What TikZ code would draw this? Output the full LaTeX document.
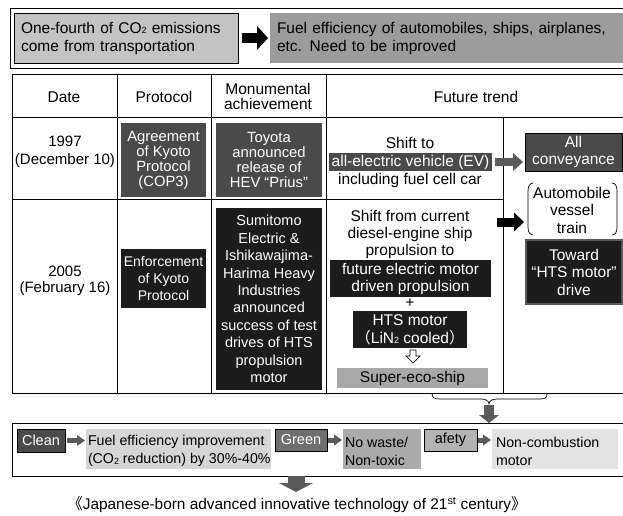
\documentclass[tikz,border=0pt]{standalone}
\usepackage{fontspec}
\setmainfont{Liberation Sans}
\newfontfamily\cjk{Noto Sans CJK JP}
\usetikzlibrary{arrows.meta}
\definecolor{dgray}{HTML}{4A4A4A}
\definecolor{kblack}{HTML}{1C1C1C}
\definecolor{lgray}{HTML}{C4C4C4}
\definecolor{mgray}{HTML}{9C9C9C}
\definecolor{sgray}{HTML}{A8A8A8}
\definecolor{agray}{HTML}{5A5A5A}
\definecolor{fgray}{HTML}{D6D6D6}
\definecolor{ngray}{HTML}{ABABAB}
\definecolor{grgray}{HTML}{6E6E6E}
\definecolor{sfgray}{HTML}{B3B3B3}
\definecolor{ncgray}{HTML}{E3E3E3}
\newcommand\fs[2]{\fontsize{#1}{#2}\selectfont}
\newcommand\subtwo{\raisebox{-0.1ex}{\fontsize{9}{9}\selectfont 2}}
\tikzset{
  dbox/.style={fill=dgray, text=white, align=center},
  kbox/.style={fill=kblack, text=white, align=center},
  barrow/.style={draw=black, line width=10pt, -{Triangle[length=11pt,width=24pt,line width=0pt]}},
  rarrow/.style={draw=black, line width=9pt, -{Triangle[length=10pt,width=19pt,line width=0pt]}},
  garrow/.style={draw=agray, line width=8pt, -{Triangle[length=10pt,width=18pt,line width=0pt]}},
  sarrow/.style={draw=agray, line width=5pt, -{Triangle[length=8pt,width=11pt,line width=0pt]}},
  darrow/.style={draw=agray, line width=10pt, -{Triangle[length=8pt,width=20pt,line width=0pt]}},
  farrow/.style={draw=agray, line width=17pt, -{Triangle[length=9pt,width=34pt,line width=0pt]}},
  tabline/.style={draw=black, line width=0.8pt},
  tabout/.style={draw=black, line width=1pt},
  btext/.style={anchor=west, align=left, font={\fs{14.2}{18}}},
}
\begin{document}
\begin{tikzpicture}[x=1pt,y=-1pt, every node/.style={inner sep=0pt, outer sep=0pt}]
\useasboundingbox (0,0) rectangle (623,516);
\fill[white] (0,0) rectangle (623,516);
\clip (0,0) rectangle (623,516);

% ---------- top frame
\node[draw, line width=0.9pt, minimum width=620, minimum height=60] (topframe) at (320,38) {};
\node[draw, line width=0.8pt, fill=lgray, minimum width=224, minimum height=50, text width=210, align=left, font={\fs{15.5}{18}}] (topL) at (126,38) {One-fourth of CO\subtwo{} emissions\\come from transportation};
\node[fill=mgray, minimum width=360, minimum height=50, text width=346, align=left, font={\fs{15.5}{18}}] (topR) at (450,38) {Fuel efficiency of automobiles, ships, airplanes,\\etc. Need to be improved};
\draw[barrow, shorten <=4pt, shorten >=2pt] (topL.east) -- (topR.west);

% ---------- table
\draw[tabout] (630,75) -- (12,75) -- (12,393) -- (630,393);
\draw[tabline] (12,117) -- (630,117);
\draw[tabline] (12,199) -- (503,199);
\draw[tabline] (117,75) -- (117,393);
\draw[tabline] (211,75) -- (211,393);
\draw[tabline] (326,75) -- (326,393);
\draw[tabline] (503,117) -- (503,393);

\node[font={\fs{15.5}{15}}] (hdate) at (64,97) {Date};
\node[font={\fs{15.5}{15}}] (hprot) at (164,97) {Protocol};
\node[font={\fs{15.5}{15}}, align=center] (hach) at (268,96) {Monumental\\achievement};
\node[font={\fs{15.5}{15}}] (hfut) at (476,97) {Future trend};

% row 1
\node[font={\fs{15}{18}}, align=center] (d1) at (65,152) {1997\\(December 10)};
\node[dbox, minimum width=85, minimum height=74, font={\fs{14.8}{15}}] (p1) at (163.5,160) {Agreement\\of Kyoto\\Protocol\\(COP3)};
\node[dbox, minimum width=106, minimum height=74, font={\fs{14.8}{15}}] (a1) at (269,160) {Toyota\\announced\\release of\\HEV “Prius”};
\node[font={\fs{15.5}{15}}] (s1a) at (410,143) {Shift to};
\node[dbox, minimum width=163, minimum height=18, font={\fs{15.5}{15}}] (ev) at (410.5,162) {all-electric vehicle (EV)};
\node[font={\fs{15.5}{15}}] (s1b) at (410,180) {including fuel cell car};
\node[dbox, draw=black, line width=1pt, minimum width=97, minimum height=38, font={\fs{15.5}{16.5}}] (all) at (573.5,152) {All\\conveyance};
\draw[garrow, shorten <=3pt, shorten >=2pt] (ev.east) -- (ev.east -| all.west);

\node[font={\fs{15.5}{17.5}}, align=center] (veh) at (572,210) {Automobile\\vessel\\train};
\draw[line width=0.7pt] (533,183) .. controls (529.5,183.5) and (528,186) .. (528,191) -- (528,227) .. controls (528,232) and (529.5,234.5) .. (533,235);
\draw[line width=0.7pt] (612,183) .. controls (615.5,183.5) and (617,186) .. (617,191) -- (617,227) .. controls (617,232) and (615.5,234.5) .. (612,235);

% row 2
\node[font={\fs{15}{16.5}}, align=center] (d2) at (65,281) {2005\\(February 16)};
\node[kbox, minimum width=85, minimum height=59, font={\fs{14}{17}}] (p2) at (163.5,278.5) {Enforcement\\of Kyoto\\Protocol};
\node[kbox, minimum width=106, minimum height=182, font={\fs{14.5}{17.4}}] (a2) at (269,299) {Sumitomo\\Electric \&\\Ishikawajima-\\Harima Heavy\\Industries\\announced\\success of test\\drives of HTS\\propulsion\\motor};
\node[font={\fs{15.5}{17}}, align=center] (s2) at (410,234) {Shift from current\\diesel-engine ship\\propulsion to};
\node[kbox, minimum width=161, minimum height=37, font={\fs{15.5}{17}}] (fe) at (410.5,278.5) {future electric motor\\driven propulsion};
\node[font={\fs{15}{15}}] (plus) at (410,303) {+};
\node[kbox, minimum width=114, minimum height=37, font={\fs{15.5}{18}}] (hts) at (410,329.5) {HTS motor\\{\cjk （}LiN\subtwo{} cooled{\cjk ）}};
\node[fill=sgray, minimum width=151, minimum height=20, font={\fs{15.5}{15}}] (super) at (412.5,378) {Super-eco-ship};
\draw[fill=white, line width=0.7pt] (410,350) -- (416,350) -- (416,356) -- (420,356) -- (413,363) -- (406,356) -- (410,356) -- cycle;
\coordinate (b2s) at (497,222);
\coordinate (b2e) at (524,222);
\draw[rarrow] (b2s) -- (b2e);
\node[kbox, draw=agray, line width=1.3pt, minimum width=96, minimum height=64, font={\fs{15.5}{17.5}}] (toward) at (574,272) {Toward\\“HTS motor”\\drive};

% brace and arrow down
\draw[line width=0.7pt] (432,393) .. controls (432,398) and (434,399) .. (440,399) -- (481,399) .. controls (486,399) and (489,401) .. (489,404) .. controls (489,401) and (492,399) .. (497,399) -- (540,399) .. controls (546,399) and (547,397) .. (547,393);
\coordinate (btip) at (489,405);

% ---------- bottom frame
\node[draw, line width=0.9pt, minimum width=618, minimum height=53] (bframe) at (321,449.5) {};
\draw[darrow] (btip) -- (btip |- bframe.north);
\node[dbox, draw=black, line width=0.8pt, minimum width=48, minimum height=23, font={\fs{14.5}{15}}] (clean) at (41,440.5) {Clean};
\node[fill=fgray, minimum width=185, minimum height=40] (fuel) at (178.5,449) {};
\node[btext] (fueltext) at ([xshift=2pt,yshift=-2pt]fuel.west) {Fuel efficiency improvement\\(CO\subtwo{} reduction) by 30\%-40\%};
\node[fill=grgray, draw=black, line width=0.8pt, text=white, minimum width=52, minimum height=22, font={\fs{14.5}{15}}] (green) at (301,440) {Green};
\node[fill=ngray, minimum width=78, minimum height=40] (nowaste) at (382,449) {};
\node[btext] (nowastetext) at ([xshift=2pt,yshift=-2pt]nowaste.west) {No waste/\\Non-toxic};
\node[fill=sfgray, draw=black, line width=0.8pt, minimum width=53, minimum height=22, font={\fs{14.5}{15}}] (safety) at (450.5,440) {afety};
\node[fill=ncgray, minimum width=126, minimum height=40] (noncomb) at (555,449) {};
\node[btext] (noncombtext) at ([xshift=4pt,yshift=-2pt]noncomb.west) {Non-combustion\\motor};
\draw[sarrow, shorten <=2pt, shorten >=1pt] (clean.east) -- (clean.east -| fuel.west);
\draw[sarrow, shorten <=1pt, shorten >=1pt] (green.east) -- (green.east -| nowaste.west);
\draw[sarrow, shorten <=1pt, shorten >=1pt] (safety.east) -- (safety.east -| noncomb.west);

% ---------- final
\node[font={\fs{15.4}{15}}] (final) at (297,505) {{\cjk 《}Japanese-born advanced innovative technology of 21\textsuperscript{st} century{\cjk 》}};
\coordinate (fend) at (296,492);
\draw[farrow] (fend |- bframe.south) -- (fend);
\end{tikzpicture}
\end{document}
